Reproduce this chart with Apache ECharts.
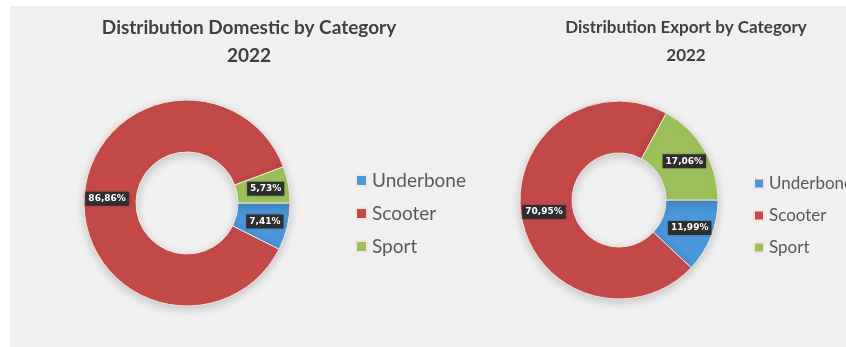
<!DOCTYPE html>
<html>
<head>
<meta charset="utf-8">
<script src="https://cdn.jsdelivr.net/npm/echarts@6/dist/echarts.min.js"></script>
<style>
html,body{margin:0;padding:0;background:#ffffff;}
#c{width:846px;height:347px;}
</style>
</head>
<body>
<div id="c"></div>
<script>
var categories = ['Underbone', 'Scooter', 'Sport'];
var domesticValues = [7.41, 86.86, 5.73];
var exportValues = [11.99, 70.95, 17.06];
var titles = ['Distribution Domestic by Category\n2022', 'Distribution Export by Category\n2022'];
var colors = ['#4a98da', '#c34a49', '#9cc15a'];

function toData(vals) {
  return categories.map(function (c, i) { return { name: c, value: vals[i] }; });
}
function fmt(p) {
  return p.value.toFixed(2).replace('.', ',') + '%';
}
var labelStyle = {
  show: true,
  position: 'inside',
  formatter: fmt,
  color: '#ffffff',
  fontSize: 9,
  fontWeight: 'bold',
  fontFamily: 'DejaVu Sans',
  backgroundColor: '#2e2e2e',
  padding: [3, 3, 2, 3],
  shadowBlur: 3,
  shadowColor: 'rgba(0,0,0,0.35)'
};
var itemStyle = {
  borderColor: '#f3e6e0',
  borderWidth: 1,
  shadowBlur: 10,
  shadowColor: 'rgba(0,0,0,0.18)',
  shadowOffsetY: 3
};
var chart = echarts.init(document.getElementById('c'), null, { renderer: 'canvas' });
chart.setOption({
  color: colors,
  animation: false,
  graphic: [{ type: 'rect', z: -10, shape: { x: 10, y: 6, width: 836, height: 341 }, style: { fill: '#f0f0f0' } }],
  title: [
    { text: titles[0], left: 244, top: 9, textAlign: 'center',
      textStyle: { fontSize: 19, fontWeight: 'bold', color: '#404040', fontFamily: 'Lato', lineHeight: 28 } },
    { text: titles[1], left: 681, top: 9, textAlign: 'center',
      textStyle: { fontSize: 17, fontWeight: 'bold', color: '#404040', fontFamily: 'Lato', lineHeight: 28 } }
  ],
  legend: [
    { orient: 'vertical', left: 350, top: 166, icon: 'rect', itemWidth: 11, itemHeight: 11, itemGap: 14,
      data: categories, textStyle: { fontSize: 19, color: '#595959', fontFamily: 'Lato' } },
    { orient: 'vertical', left: 748, top: 170, icon: 'rect', itemWidth: 10, itemHeight: 10, itemGap: 15,
      data: categories, textStyle: { fontSize: 17, color: '#595959', fontFamily: 'Lato' } }
  ],
  series: [
    { type: 'pie', center: [187, 203], radius: [51, 103], startAngle: 0, clockwise: true,
      data: toData(domesticValues), label: labelStyle, labelLine: { show: false }, itemStyle: itemStyle },
    { type: 'pie', center: [619, 200], radius: [47, 99], startAngle: 0, clockwise: true,
      data: toData(exportValues), label: labelStyle, labelLine: { show: false }, itemStyle: itemStyle }
  ]
});
</script>
</body>
</html>
